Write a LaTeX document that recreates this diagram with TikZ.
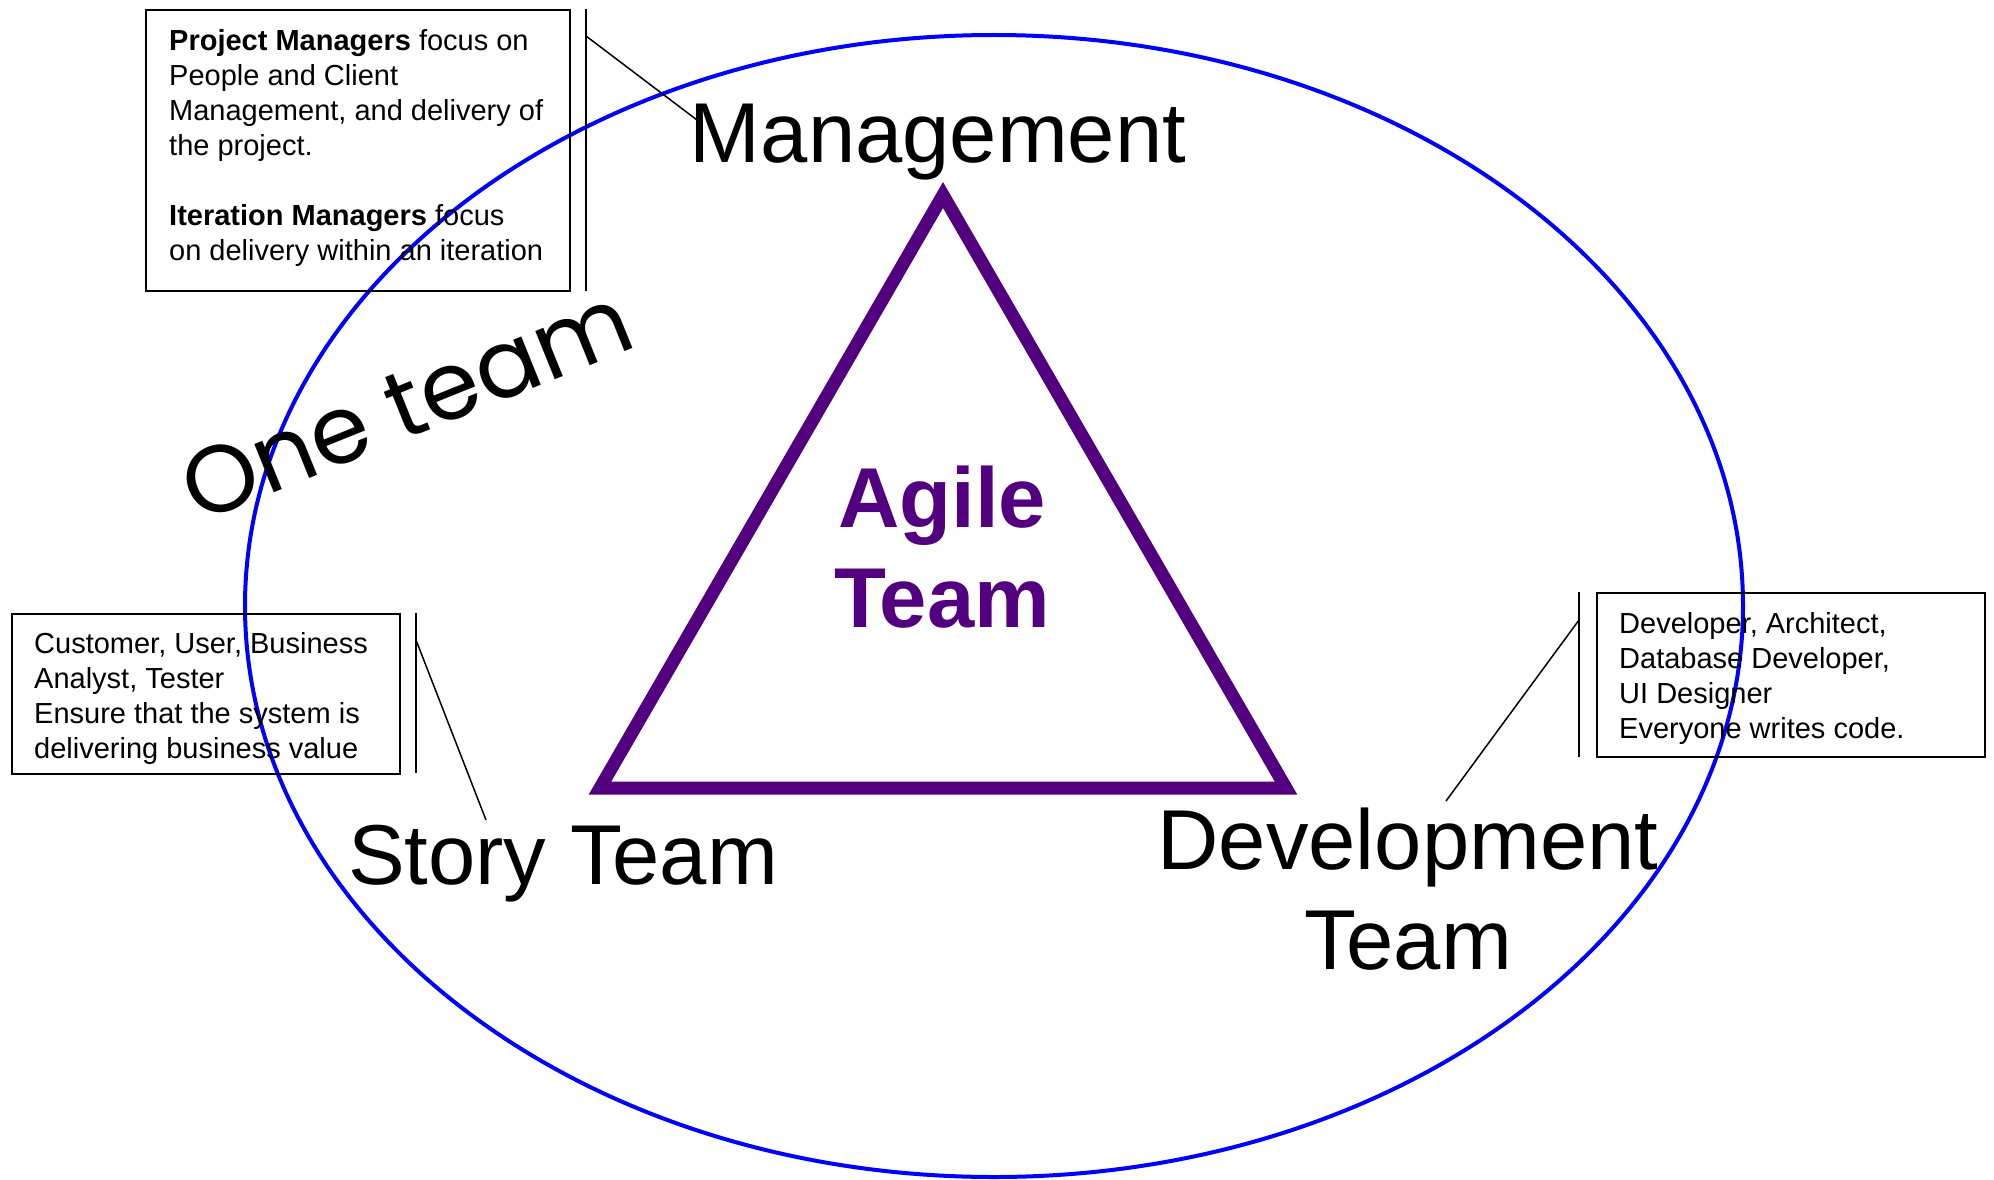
\documentclass[tikz,border=0pt]{standalone}
\usepackage{fontspec}
\setmainfont{Liberation Sans}
\newfontfamily\comicfont{Poppins}
\definecolor{agilepurple}{RGB}{82,0,128}
\definecolor{ringblue}{RGB}{0,0,255}
\begin{document}
\begin{tikzpicture}[x=1pt,y=-1pt,
  calloutbox/.style={draw=black, line width=2pt, rectangle, inner sep=0pt, anchor=north west},
  leader/.style={draw=black, line width=1.5pt},
  accentbar/.style={draw=black, line width=2pt},
  boxtext/.style={anchor=base west, align=left, inner sep=0pt, font=\fontsize{29}{35}\selectfont},
  biglabel/.style={anchor=base, align=center, inner sep=0pt, font=\fontsize{85}{100}\selectfont},
]
\useasboundingbox (0,0) rectangle (1994,1180);
\fill[white] (0,0) rectangle (1994,1180);

% outer ellipse
\draw[ringblue, line width=4pt] (994,606) ellipse [x radius=749pt, y radius=571pt];

% triangle
\coordinate (apex) at (943,195);
\coordinate (bl) at (600,788);
\coordinate (br) at (1286,788);
\draw[agilepurple, line width=13pt, miter limit=10] (apex) -- (br) -- (bl) -- cycle;

% central text (base anchor = last line's baseline)
\node[biglabel, text=agilepurple, font=\fontsize{85}{100}\selectfont\bfseries] (agile) at (942,627) {Agile\\Team};

% corner labels
\node[biglabel] (mgmt) at (938,162) {Management};
\node[biglabel] (story) at (563,884) {Story Team};
\node[biglabel] (dev) at (1408,969) {Development\\Team};

% One team
\node[rotate=22, inner sep=0pt, font=\comicfont\fontsize{95}{114}\selectfont] (oneteam) at (406,404) {One team};

% callout boxes
\node[calloutbox, minimum width=424pt, minimum height=281pt] (pmbox) at (145,9) {};
\node[boxtext] (pmtext) at (169,260) {\textbf{Project Managers} focus on\\People and Client\\Management, and delivery of\\the project.\\[35pt]\textbf{Iteration Managers} focus\\on delivery within an iteration};
\draw[accentbar] (586,9) -- (586,291);
\coordinate (pmfoot) at (586,36);
\coordinate (mgmtend) at (697,120);
\draw[leader] (pmfoot) -- (mgmtend);

\node[calloutbox, minimum width=388pt, minimum height=160pt] (stbox) at (11,613) {};
\node[boxtext] (sttext) at (34,758) {Customer, User, Business\\Analyst, Tester\\Ensure that the system is\\delivering business value};
\draw[accentbar] (416,613) -- (416,773);
\coordinate (stfoot) at (416,640);
\coordinate (storyend) at (486,820);
\draw[leader] (stfoot) -- (storyend);

\node[calloutbox, minimum width=388pt, minimum height=164pt] (dvbox) at (1596,592) {};
\node[boxtext] (dvtext) at (1619,738) {Developer, Architect,\\Database Developer,\\UI Designer\\Everyone writes code.};
\draw[accentbar] (1579,592) -- (1579,757);
\coordinate (dvfoot) at (1579,620);
\coordinate (devend) at (1446,801);
\draw[leader] (dvfoot) -- (devend);
\end{tikzpicture}
\end{document}
